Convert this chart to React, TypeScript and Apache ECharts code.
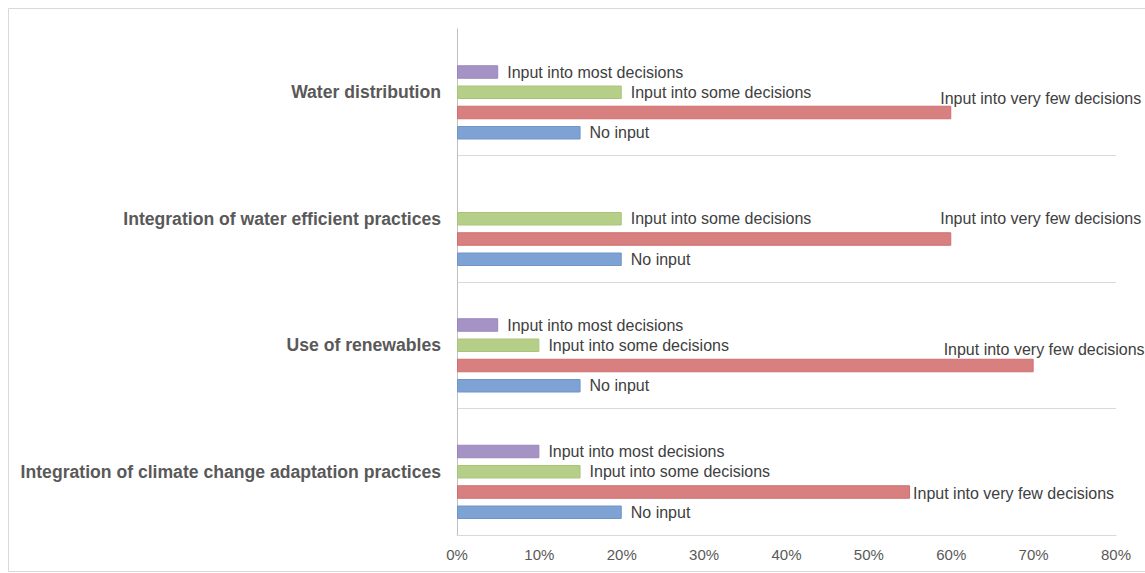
import React, { useEffect, useRef } from "react";
import * as echarts from "echarts";

const categories = [
  "Integration of climate change adaptation practices",
  "Use of renewables",
  "Integration of water efficient practices",
  "Water distribution",
];
const seriesNames = [
  "No input",
  "Input into very few decisions",
  "Input into some decisions",
  "Input into most decisions",
];
const noInput = [20, 15, 20, 15];
const veryFew = [55, 70, 60, 60];
const someDecisions = [15, 10, 20, 20];
const mostDecisions = [10, 5, null, 5];
const xTicks = [0, 10, 20, 30, 40, 50, 60, 70, 80];

const colors = ["#7ea2d3", "#d88080", "#b6cf88", "#a593c6"];
const borders = ["#6f96cb", "#cf6e6e", "#a9c47a", "#9a86bd"];

// label placement tweaks for labels that Excel moved (series index -> category index -> offset)
const labelOffsets: Record<number, Record<number, [number, number]>> = {
  1: { 0: [-6, 1], 1: [-99, -16], 2: [-20, -21], 3: [-20, -14] },
};

export default function App() {
  const ref = useRef<HTMLDivElement>(null);
  useEffect(() => {
    if (!ref.current) return;
    const chart = echarts.init(ref.current, undefined, { renderer: "svg" });
    const values = [noInput, veryFew, someDecisions, mostDecisions];
    const font = "'Liberation Sans', Arial, sans-serif";
    const built: any[] = values.map((arr, si) => ({
      type: "bar",
      name: seriesNames[si],
      barWidth: 13.5,
      barGap: "50%",
      itemStyle: { color: colors[si], borderColor: borders[si], borderWidth: 1 },
      label: {
        show: true,
        position: "right",
        distance: 9,
        formatter: "{a}",
        color: "#404040",
        fontSize: 16,
        fontFamily: font,
      },
      data: arr.map((v, ci) => {
        const off = labelOffsets[si] && labelOffsets[si][ci];
        if (v == null) return null;
        return off ? { value: v, label: { offset: off } } : v;
      }),
    }));
    // ECharts places the first series at the top of each band: blank slot first, then reversed order
    const series: any[] = [
      { type: "bar", name: "", barWidth: 13.5, barGap: "50%", data: [null, null, null, null] },
      ...built.reverse(),
    ];
    chart.setOption({
      animation: false,
      grid: { left: 457, right: 29, top: 29, bottom: 38, containLabel: false },
      graphic: [
        {
          type: "rect",
          shape: { x: 8.5, y: 8.5, width: 1160, height: 563 },
          style: { fill: "none", stroke: "#d9d9d9", lineWidth: 1 },
          silent: true,
        },
      ],
      xAxis: {
        type: "value",
        min: xTicks[0],
        max: xTicks[xTicks.length - 1],
        interval: 10,
        axisLine: { show: true, lineStyle: { color: "#d9d9d9", width: 1 } },
        axisTick: { show: false },
        splitLine: { show: false },
        axisLabel: {
          formatter: "{value}%",
          color: "#595959",
          fontSize: 15,
          fontFamily: font,
          margin: 12,
        },
      },
      yAxis: {
        type: "category",
        data: categories,
        axisLine: { show: true, lineStyle: { color: "#bfbfbf", width: 1 } },
        axisTick: { show: false },
        splitLine: {
          show: true,
          showMinLine: false,
          showMaxLine: false,
          lineStyle: { color: "#d9d9d9", width: 1 },
        },
        axisLabel: {
          color: "#595959",
          fontSize: 17.6,
          fontWeight: "bold",
          fontFamily: font,
          margin: 16,
        },
      },
      series,
    });
    return () => chart.dispose();
  }, []);
  return (
    <div
      ref={ref}
      style={{ position: "absolute", left: 0, top: 0, width: 1145, height: 573, background: "#fff" }}
    />
  );
}
